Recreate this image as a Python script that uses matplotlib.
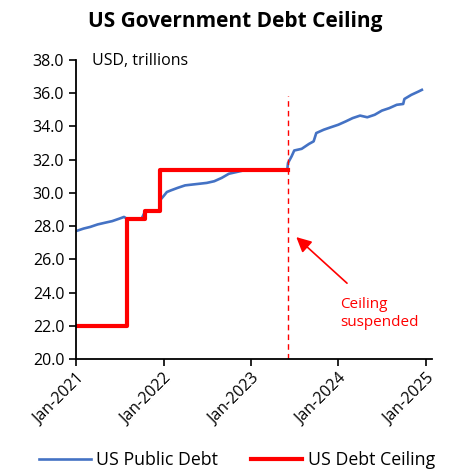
import matplotlib
matplotlib.use("Agg")
import matplotlib.pyplot as plt
import matplotlib.dates as mdates
import numpy as np

plt.rcParams["font.family"] = ["Open Sans", "DejaVu Sans"]

# US public debt, USD trillions
debt_dates = ["2021-01-01", "2021-02-01", "2021-03-01", "2021-04-01", "2021-05-01",
              "2021-06-01", "2021-07-01", "2021-07-20", "2021-08-01", "2021-09-01",
              "2021-10-01", "2021-10-15", "2021-11-15", "2021-12-15", "2021-12-20",
              "2022-01-01", "2022-01-15", "2022-02-01", "2022-03-01", "2022-04-01",
              "2022-05-01", "2022-06-01", "2022-07-01", "2022-08-01", "2022-09-01",
              "2022-10-01", "2022-11-01", "2022-12-01", "2023-01-01", "2023-03-01",
              "2023-06-02", "2023-06-05", "2023-06-20", "2023-07-01", "2023-08-01",
              "2023-09-01", "2023-09-20", "2023-10-01", "2023-11-01", "2023-12-01",
              "2024-01-01", "2024-02-01", "2024-03-01", "2024-04-01", "2024-05-01",
              "2024-06-01", "2024-07-01", "2024-08-01", "2024-09-01", "2024-09-28",
              "2024-10-03", "2024-11-01", "2024-12-01", "2024-12-15"]
debt_vals = [27.7, 27.85, 27.95, 28.1, 28.2,
             28.3, 28.45, 28.55, 28.45, 28.43,
             28.43, 28.85, 28.9, 28.9, 29.6,
             29.8, 30.05, 30.15, 30.3, 30.45,
             30.5, 30.55, 30.6, 30.7, 30.9,
             31.15, 31.25, 31.35, 31.4, 31.4,
             31.4, 31.8, 32.2, 32.55, 32.65,
             32.95, 33.1, 33.6, 33.8, 33.95,
             34.1, 34.3, 34.5, 34.65, 34.55,
             34.7, 34.95, 35.1, 35.3, 35.35,
             35.65, 35.9, 36.1, 36.2]

# statutory debt ceiling (step changes)
ceil_dates = ["2021-01-01", "2021-08-01", "2021-10-14", "2021-12-16", "2023-06-03"]
ceil_vals = [22.0, 28.4, 28.9, 31.4, 31.4]

suspend_date = "2023-06-03"

debt_x = np.array(debt_dates, dtype="datetime64[D]")
ceil_x = np.array(ceil_dates, dtype="datetime64[D]")
susp_x = np.datetime64(suspend_date)

fig = plt.figure(figsize=(4.53, 4.72), dpi=100)
ax = fig.add_axes([0.168, 0.2394, 0.786, 0.6336])

ax.plot(debt_x, debt_vals, color="#4472C4", lw=1.9, label="US Public Debt")
ax.step(ceil_x, ceil_vals, where="post", color="#FF0000", lw=3.0, label="US Debt Ceiling")
ax.vlines(susp_x, 20, 35.8, colors="#FF0000", linestyles=(0, (4, 3)), lw=1.0)

ax.annotate("", xy=(np.datetime64("2023-07-01"), 27.45), xytext=(np.datetime64("2024-02-15"), 24.45),
            arrowprops=dict(arrowstyle="-|>,head_length=0.9,head_width=0.45",
                            color="#FF0000", lw=1.2))
ax.text(np.datetime64("2024-01-10"), 22.75, "Ceiling\nsuspended", color="#FF0000",
        fontsize=11, ha="left", va="center", linespacing=1.3)

ax.text(0.045, 0.995, "USD, trillions", transform=ax.transAxes, fontsize=11.5,
        ha="left", va="center")

ax.set_ylim(20, 38)
ax.set_yticks(np.arange(20, 38.1, 2))
ax.yaxis.set_major_formatter(plt.FuncFormatter(lambda v, p: f"{v:.1f}"))
ax.set_xlim(np.datetime64("2021-01-01"), np.datetime64("2025-01-27"))
ax.xaxis.set_major_locator(mdates.YearLocator())
ax.xaxis.set_major_formatter(mdates.DateFormatter("%b-%Y"))
plt.setp(ax.get_xticklabels(), rotation=45, ha="right", rotation_mode="anchor")
ax.tick_params(labelsize=11.5, length=5, width=1.2, direction="out")
for s in ["top", "right"]:
    ax.spines[s].set_visible(False)
for s in ["left", "bottom"]:
    ax.spines[s].set_linewidth(1.3)

fig.text(0.52, 0.955, "US Government Debt Ceiling", ha="center", va="center",
         fontsize=15, fontweight="bold")
fig.legend(loc="center", bbox_to_anchor=(0.523, 0.025), ncol=2, frameon=False,
           fontsize=12.8, handlelength=2.9, columnspacing=1.85, handletextpad=0.3)

fig.savefig("out.png", dpi=100)
